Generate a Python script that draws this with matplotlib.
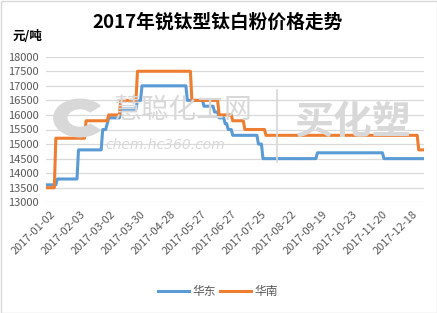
import numpy as np
import matplotlib
matplotlib.use("Agg")
import matplotlib.pyplot as plt
import matplotlib.transforms as mtransforms
from matplotlib.patches import Rectangle, Wedge
from matplotlib.lines import Line2D

plt.rcParams['font.family'] = ['Noto Sans CJK SC', 'DejaVu Sans']

# ---- data (step change points, category index) ----
n_points = 250
east_change = [0, 7, 21, 37, 40, 41, 49, 60, 63, 93, 104, 111, 114, 118, 120, 123, 140, 143, 179, 223]
east_vals = [13600, 13800, 14800, 15500, 15700, 15900, 16200, 16500, 17000, 16500, 16300,
             16100, 15900, 15700, 15500, 15300, 15000, 14500, 14700, 14500]
south_change = [0, 6, 26, 41, 49, 60, 96, 114, 123, 131, 145, 246]
south_vals = [13500, 15200, 15800, 16000, 16500, 17500, 16500, 16000, 15800, 15500, 15300, 14800]
tick_pos = [0, 20, 40, 60, 80, 100, 120, 140, 160, 180, 200, 220, 240]
tick_labels = ['2017-01-02', '2017-02-03', '2017-03-02', '2017-03-30', '2017-04-28',
               '2017-05-27', '2017-06-27', '2017-07-25', '2017-08-22', '2017-09-19',
               '2017-10-23', '2017-11-20', '2017-12-18']
series_names = ['华东', '华南']
title = '2017年锐钛型钛白粉价格走势'
unit = '元/吨'


def expand(change, vals, n):
    bounds = list(change[1:]) + [n]
    reps = [b - a for a, b in zip(change, bounds)]
    return np.repeat(vals, reps)


east = expand(east_change, east_vals, n_points)
south = expand(south_change, south_vals, n_points)
x = np.arange(n_points)

W, H = 437, 313
fig = plt.figure(figsize=(W / 100, H / 100), dpi=100)
fig.patch.set_facecolor('white')

left, right, top, bottom = 46, 424, 56.7, 202.3
ax = fig.add_axes([left / W, 1 - bottom / H, (right - left) / W, (bottom - top) / H])
ax.set_xlim(-0.5, n_points - 0.5)
ax.set_ylim(13000, 18000)
ax.set_yticks(np.arange(13000, 18001, 500))
ax.yaxis.grid(True, color='#d9d9d9', linewidth=0.9)
ax.set_axisbelow(True)
for s in ax.spines.values():
    s.set_visible(False)
ax.tick_params(axis='both', length=0, colors='#595959', labelsize=8)
ax.tick_params(axis='y', pad=5)
ax.tick_params(axis='x', pad=5)
ax.set_xticks(tick_pos)
ax.set_xticklabels(tick_labels, rotation=45, ha='right', va='top', rotation_mode='anchor')
offset = mtransforms.ScaledTranslation(3 / 100, 0, fig.dpi_scale_trans)
for lbl in ax.get_xticklabels():
    lbl.set_transform(lbl.get_transform() + offset)

# watermark (light gray)
wm = '#d8d8d8'
fig.patches.append(Wedge((80 / W, 1 - 118 / H), 0.06, 40, 320, width=0.03,
                         transform=fig.transFigure, color=wm, zorder=0.5))
fig.text(183 / W, 1 - 110 / H, '慧聪化工网', fontsize=20, color=wm, ha='center', va='center',
         zorder=0.6)
fig.text(165 / W, 1 - 145 / H, 'chem.hc360.com', fontsize=10, color=wm, ha='center', va='center',
         style='italic', family='DejaVu Sans', zorder=0.6)
fig.lines.append(Line2D([277 / W, 277 / W], [1 - 90 / H, 1 - 162 / H], transform=fig.transFigure,
                        color=wm, linewidth=1.2, zorder=0.6))
fig.text(353 / W, 1 - 122 / H, '买化塑', fontsize=28, color=wm, ha='center', va='center',
         weight='bold', zorder=0.6)
ax.patch.set_alpha(0)

ax.plot(x, east, color='#5B9BD5', linewidth=2.2, label=series_names[0], zorder=3)
ax.plot(x, south, color='#ED7D31', linewidth=2.2, label=series_names[1], zorder=4)

fig.text(218 / W, 1 - 22 / H, title, fontsize=13.5, weight='bold', ha='center', va='center', color='black')
fig.text(13 / W, 1 - 36 / H, unit, fontsize=9, weight='bold', ha='left', va='center', color='black')

fig.legend(loc='center', bbox_to_anchor=(218 / W, 1 - 292 / H), ncol=2, frameon=False,
           fontsize=8.5, handlelength=2.6, columnspacing=0.4, handletextpad=0.3,
           labelcolor='#595959')

fig.patches.append(Rectangle((0.5 / W, 0.5 / H), 1 - 1 / W, 1 - 1 / H, transform=fig.transFigure,
                             fill=False, edgecolor='#d9d9d9', linewidth=1))

fig.savefig('out.png', dpi=100)
